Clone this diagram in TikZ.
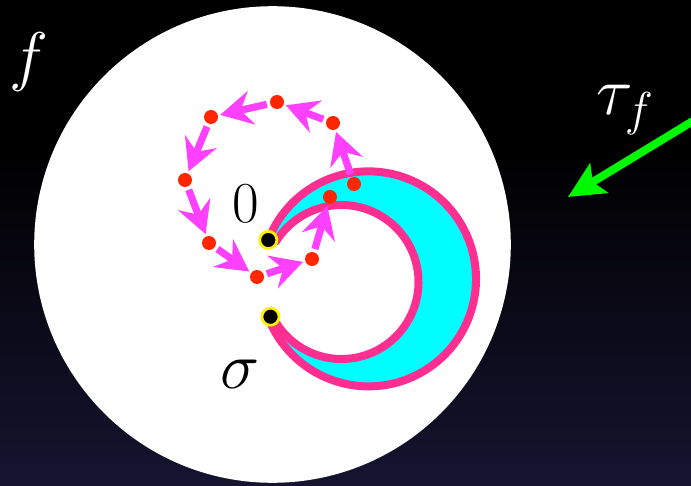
\documentclass[tikz,border=0pt]{standalone}
\usepackage{fix-cm}
\usetikzlibrary{arrows.meta}
\definecolor{crescentpink}{RGB}{255,47,146}
\definecolor{crescentcyan}{RGB}{0,253,255}
\definecolor{loopmagenta}{RGB}{255,64,255}
\definecolor{dotred}{RGB}{255,38,0}
\definecolor{arrowgreen}{RGB}{0,249,0}
\definecolor{bgnavy}{RGB}{22,20,48}
\begin{document}
\begin{tikzpicture}[x=0.5pt,y=-0.5pt,
  reddot/.style={circle,fill=dotred,minimum size=7pt,inner sep=0pt},
  pointdot/.style={circle,fill=black,draw=yellow,line width=1.4pt,minimum size=8.6pt,inner sep=0pt},
  looparrow/.style={loopmagenta,line width=3.6pt,-{Stealth[length=16pt,width=17pt,inset=5.5pt]},shorten <=1.5pt,shorten >=1pt},
  pinkcurve/.style={crescentpink,line width=4pt,line join=round},
  mathlabel/.style={font=\fontsize{33}{36}\selectfont}]
\useasboundingbox (0,0) rectangle (691,486);
% night sky and the big disk
\fill[black] (0,0) rectangle (691,486);
\shade[top color=black,bottom color=bgnavy] (0,150) rectangle (691,486);
\fill[white] (272.5,244.5) circle (238.3);
% crescent between the two pink curves
\coordinate (zeroPt) at (268.3,240); \coordinate (sigmaPt) at (270.5,316.7);
\fill[crescentcyan] (zeroPt) arc[start angle=201.2,end angle=519,radius=107.5] -- (276.2,322.8) arc[start angle=148,end angle=-148,radius=77] -- cycle;
\draw[pinkcurve] (zeroPt) arc[start angle=201.2,end angle=519,radius=107.5];
\draw[pinkcurve] (zeroPt) -- (276.2,241.2) arc[start angle=212,end angle=508,radius=77] -- (sigmaPt);
\node[pointdot] (zero) at (zeroPt) {}; \node[pointdot] (sigma) at (sigmaPt) {};
\node[mathlabel,font=\fontsize{29}{32}\selectfont] (zeroLabel) at (245.5,204) {$0$};
\node[mathlabel] (sigmaLabel) at (240,374) {$\sigma$};
% loop of red dots
\foreach \n/\x/\y in {1/354/184,2/333/123,3/277/102,4/211/117,5/185/180,6/209/243,7/257/277,8/312/259,9/330/197} \node[reddot] (p\n) at (\x,\y) {};
\foreach \a/\b in {1/2,2/3,3/4,4/5,5/6,6/7,7/8,8/9} \draw[looparrow] (p\a) -- (p\b);
% labels on the dark side
\node[mathlabel,white] (fLabel) at (29,62.5) {$f$};
\node[mathlabel,white,font=\fontsize{34}{38}\selectfont] (tauLabel) at (625,110) {$\tau_f$};
\coordinate (tauTail) at (693,121); \coordinate (tauTip) at (568,197);
\draw[arrowgreen,line width=4pt,-{Stealth[length=18pt,width=17pt,inset=3.5pt]}] (tauTail) -- (tauTip);
\end{tikzpicture}
\end{document}
